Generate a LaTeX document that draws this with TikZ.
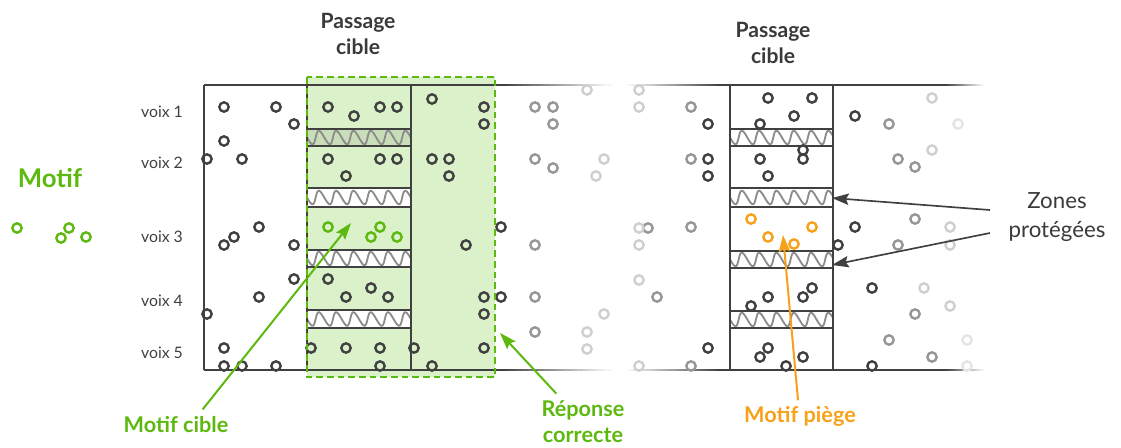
\documentclass[tikz,border=0pt]{standalone}
\usepackage{fontspec}
\setmainfont{Lato}
\usetikzlibrary{arrows.meta}

\definecolor{ink}{HTML}{404040}
\definecolor{limeg}{HTML}{5DB90F}
\definecolor{lightg}{HTML}{DAF1C9}
\definecolor{bandg}{HTML}{C9DDB9}
\definecolor{trapo}{HTML}{F7A11B}
\definecolor{wavegray}{HTML}{8C8C8C}

% one protected band: x1, x2, top, bottom, fill
\newcommand{\protband}[5]{%
  \fill[#5] (#1,#3) rectangle (#2,#4);
  \begin{scope}
    \clip (#1,#3) rectangle (#2,#4);
    \draw[wave] plot[domain=#1-6:#2+6, samples=120, smooth]
      ({\x+1.2*sin((\x-#1)*20.8)}, {(#3+#4)/2+6.8*sin((\x-#1)*20.8)});
  \end{scope}
  \draw[frame] (#1,#3) rectangle (#2,#4);
}

% frame line that fades: x1, x2, y, 1 = dark to light, 0 = light to dark
\newcommand{\fadeline}[4]{%
  \foreach \i in {0,...,19}{
    \pgfmathsetmacro{\xa}{#1+(#2-#1)*\i/20}
    \pgfmathsetmacro{\xb}{#1+(#2-#1)*(\i+1.3)/20}
    \pgfmathtruncatemacro{\pc}{#4==1 ? 100-5*\i : 5*\i+5}
    \draw[ink!\pc, line width=0.8mm] (\xa,#3) -- (\xb,#3);
  }}

\begin{document}
\begin{tikzpicture}[x=0.3mm, y=-0.3mm,
  frame/.style={ink, line width=0.8mm},
  wave/.style={wavegray, line width=0.55mm},
  ring/.style={line width=0.72mm},
  lane/.style={ink, font=\fontsize{13.5}{16}\selectfont},
  title/.style={ink!90!black, font=\bfseries\fontsize{18}{22}\selectfont, align=center},
  tag/.style={font=\bfseries\fontsize{18.5}{22}\selectfont, align=center},
  pointer/.style={line width=0.6mm, -{Stealth[length=5mm, width=3.4mm, inset=0.8mm]}}]
\useasboundingbox (0,0) rectangle (1121,448);

% target answer area
\fill[lightg] (307,77) rectangle (495,377);

% frames of the two panels
\draw[frame] (204,85) -- (501,85);
\draw[frame] (204,370) -- (501,370);
\fadeline{500}{610}{85}{1}
\fadeline{500}{610}{370}{1}
\fadeline{627}{722}{85}{0}
\fadeline{627}{722}{370}{0}
\draw[frame] (721,85) -- (946,85);
\draw[frame] (721,370) -- (946,370);
\fadeline{945}{984}{85}{1}
\fadeline{945}{984}{370}{1}
\foreach \xv in {204,307,411,730,833}
  \draw[frame] (\xv,85) -- (\xv,370);

% protected bands
\protband{307}{411}{129}{146}{bandg}
\protband{307}{411}{188}{207}{white}
\protband{307}{411}{250}{267}{white}
\protband{307}{411}{310}{328}{white}
\foreach \yt/\yb in {129/146,188/207,251/268,311/328}
  {\protband{730}{833}{\yt}{\yb}{white}}

% lanes
\node[lane] (voix1) at (162,112) {voix 1};
\node[lane] (voix2) at (162,163) {voix 2};
\node[lane] (voix3) at (162,237) {voix 3};
\node[lane] (voix4) at (162,301) {voix 4};
\node[lane] (voix5) at (162,353) {voix 5};

% dots
\foreach \p in {(224,107),(276,107),(294,124),(224,141),(207,159),(242,159),(259,227),(234,237),(224,245),(294,245),(294,279),(259,297),(207,314),(224,348),(224,366),(242,366),(276,366),
  (328,107),(354,116),(380,107),(397,107),(328,159),(380,159),(397,159),(346,176),(328,279),(371,288),(346,297),(388,297),(311,348),(346,348),(380,348),(380,366),
  (432,99),(484,107),(484,124),(432,159),(449,159),(449,176),(501,227),(466,245),(484,297),(501,297),(484,314),(414,348),(484,348),(432,366),
  (708,124),(768,98),(812,98),(794,116),(760,124),(855,116),(708,159),(708,176),(760,159),(803,150),(803,159),(768,176),(855,227),(838,245),(872,288),(768,297),(751,306),(803,297),(812,288),(708,348),(768,348),(760,357),(803,357),(786,366),(872,366)}
  \draw[ring, ink] \p circle[radius=1.4mm];
\foreach \p in {(535,107),(553,107),(553,124),(535,159),(553,168),(535,245),(535,297),(535,332),
  (691,107),(889,124),(691,159),(898,159),(915,167),(691,227),(915,219),(898,245),(915,314),(889,340),(932,357),(691,366),(648,228),(657,297)}
  \draw[ring, ink!55] \p circle[radius=1.4mm];
\foreach \p in {(587,90),(639,90),(639,107),(604,159),(596,176),(639,228),(639,245),(639,280),(604,314),(587,332),(587,349),(639,366),
  (932,98),(932,150),(950,227),(950,245),(924,288),(950,306)}
  \draw[ring, ink!25] \p circle[radius=1.4mm];
\foreach \p in {(958,124),(967,340),(967,366)}
  \draw[ring, ink!14] \p circle[radius=1.4mm];
\foreach \p in {(328,227),(380,227),(371,237),(397,237),(17,228),(61,238),(69,228),(86,237)}
  \draw[ring, limeg] \p circle[radius=1.4mm];
\foreach \p in {(751,219),(812,227),(768,237),(794,244)}
  \draw[ring, trapo] \p circle[radius=1.4mm];

% dashed border of the answer
\draw[limeg, line width=0.6mm, dash pattern=on 2mm off 1.2mm] (307,77) rectangle (495,377);

% titles and labels
\node[title] (passL) at (358,34) {Passage\\cible};
\node[title] (passR) at (773,43) {Passage\\cible};
\node[tag, limeg, font=\bfseries\fontsize{22}{26}\selectfont] (motif) at (50,178) {Motif};
\node[tag, limeg] (motifcible) at (176,425) {Motif cible};
\node[tag, limeg] (reponse) at (583,422) {Réponse\\correcte};
\node[tag, trapo] (piege) at (800,416) {Motif piège};
\node[title, font=\fontsize{19}{24}\selectfont] (zones) at (1057,217) {Zones\\protégées};

% pointers
\coordinate (ciblept) at (351,223);
\coordinate (reppt) at (500,333);
\coordinate (piegept) at (783,235);
\coordinate (band2pt) at (832,198);
\coordinate (band3pt) at (832,265);
\coordinate (zonesA) at (990,210);
\coordinate (zonesB) at (990,233);
\draw[pointer, limeg] ([xshift=8mm, yshift=1mm]motifcible.north) -- (ciblept);
\draw[pointer, limeg] ([xshift=-8mm, yshift=1mm]reponse.north) -- (reppt);
\draw[pointer, trapo] ([xshift=-0.6mm, yshift=0.5mm]piege.north) -- (piegept);
\draw[pointer, ink, line width=0.5mm] (zonesA) -- (band2pt);
\draw[pointer, ink, line width=0.5mm] (zonesB) -- (band3pt);
\end{tikzpicture}
\end{document}
